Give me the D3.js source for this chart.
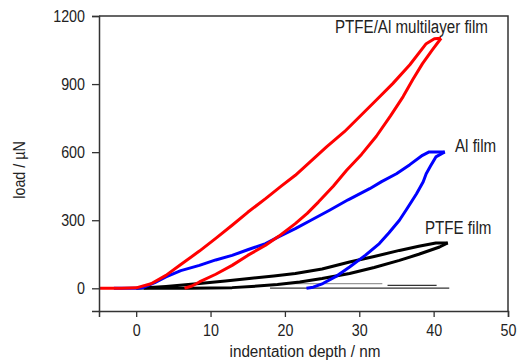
<!DOCTYPE html>
<html>
<head>
<meta charset="utf-8">
<script src="https://cdn.jsdelivr.net/npm/d3@7"></script>
<style>
  body { margin: 0; background: #fff; }
  text { font-family: "Liberation Sans", Arial, sans-serif; fill: #222; }
</style>
</head>
<body>
<script>
// load / displacement readings, [depth nm, load uN]
var multiLoad = [[-5,0],[-2,0],[0,2],[2,20],[4,57],[6,105],[8.5,164],[10.7,220],[12.9,278],[15,335],[17.4,395],[19.5,450],[21.4,498],[23.5,560],[25.6,623],[28,690],[30,755],[32.3,830],[34.5,902],[36.8,985],[39,1078],[40.1,1100],[41,1102]];
var multiUnload = [[41,1102],[39.8,1050],[38.5,990],[37.2,920],[35.9,845],[34.2,760],[32.3,670],[30.3,590],[28.3,520],[26.5,450],[24.5,380],[23,330],[21.4,285],[19.2,230],[17.4,190],[15,145],[12.9,101],[10.7,62],[8.5,28],[7.5,10],[6.5,0]];
var alLoad = [[-3,0],[0,0],[0.8,2],[2.5,25],[4,50],[6,78],[8.5,101],[10.7,125],[12.9,145],[15,170],[17.4,197],[19.2,228],[21.4,263],[23.5,300],[26,344],[28.5,390],[31.4,439],[33,470],[35,505],[36.8,545],[38.5,586],[39.4,601],[41.5,601]];
var alUnload = [[41.5,601],[40.3,579],[39.6,540],[39,505],[38.6,470],[37.7,417],[36.5,355],[35.4,300],[34,245],[32.7,197],[30.8,145],[28.7,94],[27,55],[25.1,21],[23.8,5],[22.9,0]];
var ptfeLoad = [[0,0],[0.8,1],[4,8],[8.5,21],[12,32],[15.2,43],[18.5,54],[21.4,65],[25,85],[28.7,116],[32,140],[35.4,167],[38,185],[40.3,200],[41.9,200]];
var ptfeUnload = [[41.9,200],[40.8,182],[38,150],[35.4,123],[32,92],[28.7,65],[25,43],[22,28],[19,17],[15.5,8],[12.9,3],[10,1],[7,0],[1,0]];
var holdSegs = [[[19.3,21],[33.1,21]],[[33.8,13],[40.4,13]],[[18,1],[42.1,1]]];

var xMajor = [0,10,20,30,40,50];
var xMinor = [-5,5,15,25,35,45];
var yMajor = [0,300,600,900,1200];
var yMinor = [150,450,750,1050];

var labels = [
  {text: 'PTFE/Al multilayer film', x: 335, y: 33},
  {text: 'Al film', x: 455, y: 152},
  {text: 'PTFE film', x: 425, y: 234}
];

var width = 521, height = 364;
var margin = {left: 99, top: 16, right: 13, bottom: 53};
var squeeze = 0.84;

var svg = d3.select('body').append('svg')
    .attr('width', width)
    .attr('height', height);

var x = d3.scaleLinear().domain([-5, 50]).range([margin.left, width - margin.right]);
var y = d3.scaleLinear().domain([-100, 1200]).range([height - margin.bottom, margin.top]);

// squeeze text horizontally so it looks like the narrow font of the original
function narrow(sel) {
    sel.each(function() {
        var w = this.getComputedTextLength();
        d3.select(this).attr('textLength', w * squeeze).attr('lengthAdjust', 'spacingAndGlyphs');
    });
}

// curves
var line = d3.line().x(function(d) { return x(d[0]); }).y(function(d) { return y(d[1]); });

svg.selectAll('.hold')
    .data(holdSegs)
    .enter().append('path')
    .attr('d', line)
    .attr('fill', 'none')
    .attr('stroke', function(d, i) { return i === 0 ? '#999' : '#333'; })
    .attr('stroke-width', 1.2);

var curves = [
  {d: ptfeLoad, c: '#000'}, {d: ptfeUnload, c: '#000'},
  {d: alLoad, c: '#0000ff'}, {d: alUnload, c: '#0000ff'},
  {d: multiLoad, c: '#ff0000'}, {d: multiUnload, c: '#ff0000'}
];
svg.selectAll('.curve')
    .data(curves)
    .enter().append('path')
    .attr('d', function(d) { return line(d.d); })
    .attr('fill', 'none')
    .attr('stroke', function(d) { return d.c; })
    .attr('stroke-width', 3)
    .attr('stroke-linejoin', 'round');

// frame
svg.append('path')
    .attr('d', 'M' + x(-5) + ',' + y(1200) + 'H' + x(50) + 'V' + y(-100))
    .attr('fill', 'none').attr('stroke', '#333').attr('stroke-width', 1.5);

// axes
var gx = svg.append('g').attr('transform', 'translate(0,' + y(-100) + ')');
gx.call(d3.axisBottom(x).tickValues(xMinor).tickSize(4).tickFormat(''));
gx.call(d3.axisBottom(x).tickValues(xMajor).tickSize(6).tickPadding(7).tickFormat(d3.format('d')));

var gy = svg.append('g').attr('transform', 'translate(' + x(-5) + ',0)');
gy.call(d3.axisLeft(y).tickValues(yMinor).tickSize(4).tickFormat(''));
gy.call(d3.axisLeft(y).tickValues(yMajor).tickSize(7).tickPadding(7).tickFormat(d3.format('d')));

svg.selectAll('.domain').attr('stroke', '#333').attr('stroke-width', 1.5);
svg.selectAll('.tick line').attr('stroke', '#333').attr('stroke-width', 1.3);
svg.selectAll('.tick text')
    .style('font-family', '"Liberation Sans", Arial, sans-serif')
    .style('font-size', '17px')
    .attr('fill', '#222')
    .call(narrow);

// titles
svg.append('text')
    .attr('x', 305).attr('y', 357)
    .attr('text-anchor', 'middle')
    .style('font-size', '16px')
    .text('indentation depth / nm')
    .call(function(s) {
        s.attr('textLength', 151).attr('lengthAdjust', 'spacingAndGlyphs');
    });

svg.append('text')
    .attr('transform', 'translate(25,170) rotate(-90)')
    .attr('text-anchor', 'middle')
    .style('font-size', '17px')
    .text('load / \u00b5N')
    .call(narrow);

svg.selectAll('.lab')
    .data(labels)
    .enter().append('text')
    .attr('x', function(d) { return d.x; })
    .attr('y', function(d) { return d.y; })
    .style('font-size', '18px')
    .text(function(d) { return d.text; })
    .call(narrow);
</script>
</body>
</html>
